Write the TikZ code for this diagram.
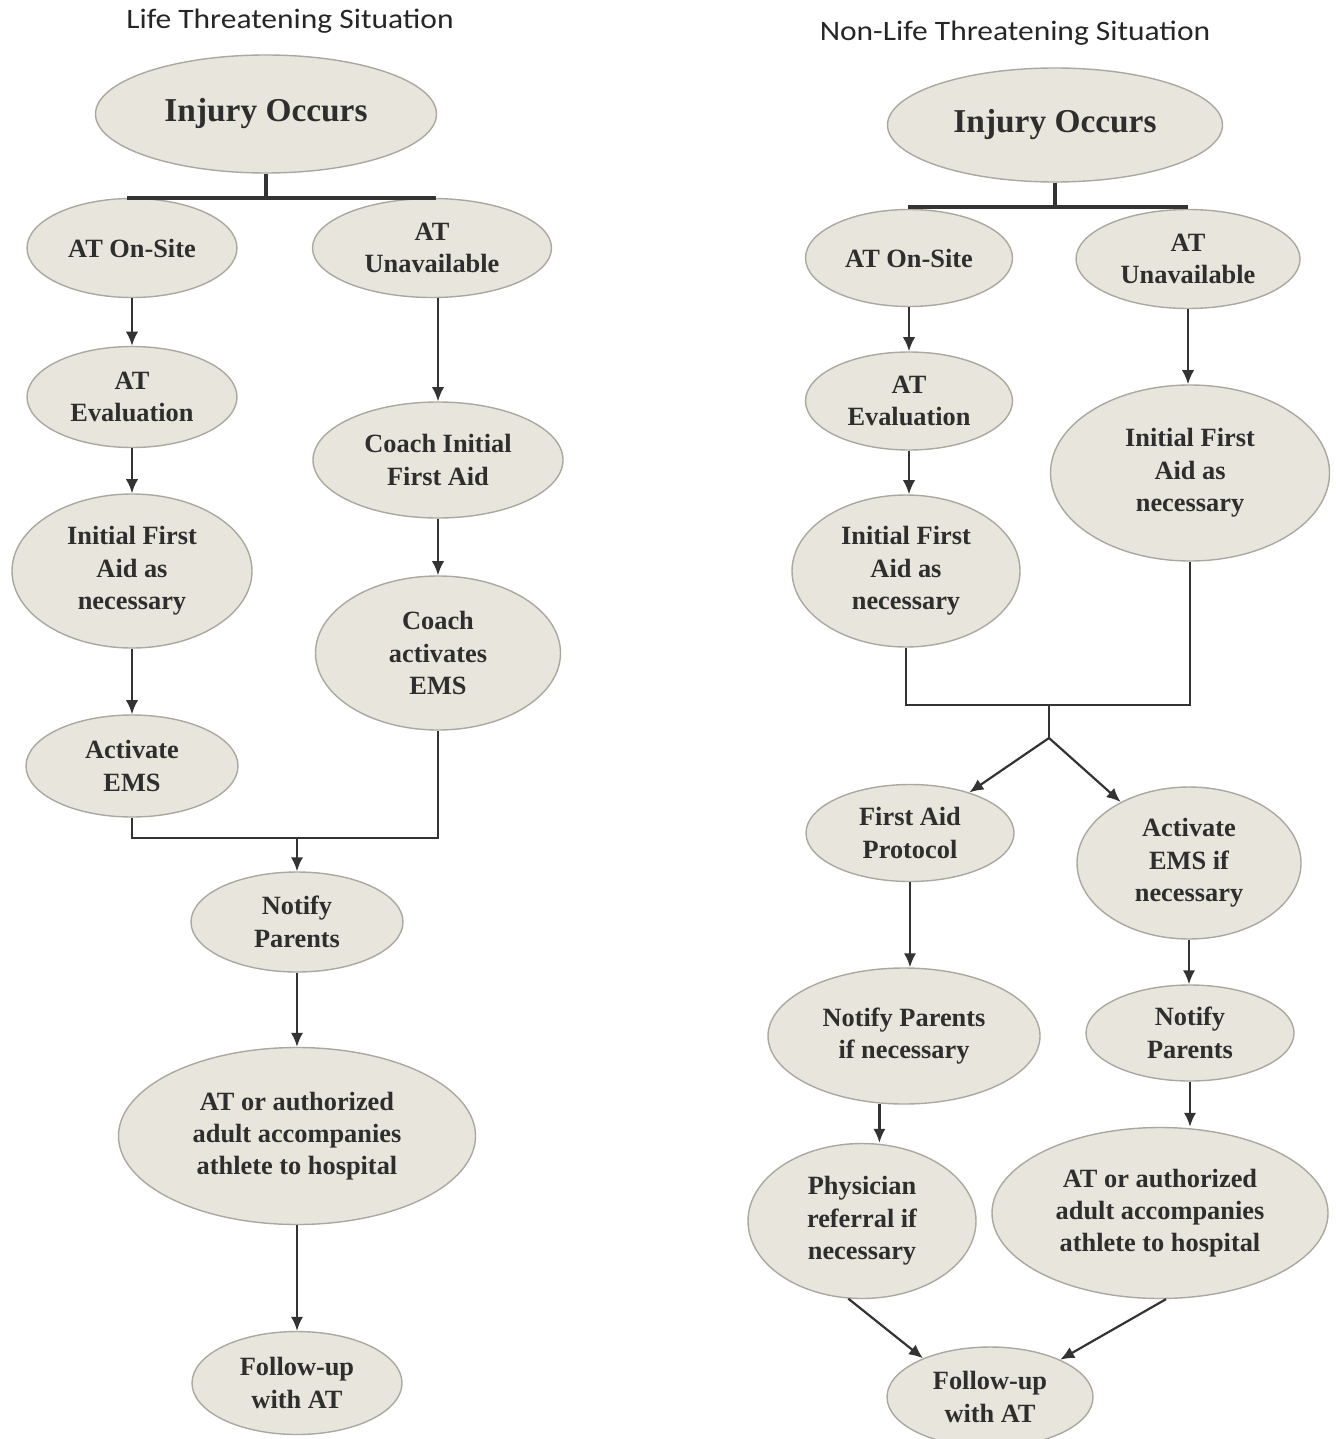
\documentclass[tikz,border=0pt]{standalone}
\usepackage{fontspec}
\setmainfont{Liberation Serif}
\newfontfamily\titlefont[FakeStretch=1.12]{Carlito}
\usepackage{xcolor}
\usetikzlibrary{arrows.meta, positioning, shapes.geometric}
\definecolor{ovalfill}{HTML}{E8E6DC}
\definecolor{ovaldraw}{HTML}{A9A9A1}
\definecolor{wiregray}{HTML}{333333}
\definecolor{inkgray}{HTML}{2E2E2E}
\tikzset{
  bubble/.style 2 args={ellipse, draw=ovaldraw, fill=ovalfill, line width=0.8pt,
                minimum width=#1*0.02cm, minimum height=#2*0.02cm,
                inner sep=0pt, align=center, text=inkgray,
                font=\fontsize{15}{18.4}\selectfont\bfseries},
  big/.style={font=\fontsize{19}{23}\selectfont\bfseries},
  arr/.style={-{Latex[length=8pt,width=7pt]}, line width=1.25pt, wiregray},
  wire/.style={line width=1.25pt, wiregray},
  bar/.style={line width=1.8pt, wiregray},
  ttl/.style={font=\titlefont\fontsize{16}{19}\selectfont, text=black!85},
}
\begin{document}
\begin{tikzpicture}[x=0.02cm, y=-0.02cm]
  \useasboundingbox (0,0) rectangle (1335,1439);
  %% Life threatening side
  \node[ttl] (ttlL) at (290,21) {Life Threatening Situation};
  \node[bubble={341}{118}, big] (injL) at (266,114) {Injury Occurs};
  \coordinate (barL1) at (127,198);
  \coordinate (barL2) at (436,198);
  \node[bubble={210}{99}]  (siteL)    at (132,248) {AT On-Site};
  \node[bubble={239}{99}]  (unavL)    at (432,248) {AT\\Unavailable};
  \node[bubble={210}{101}] (evalL)    at (132,397) {AT\\Evaluation};
  \node[bubble={240}{154}] (aidL)     at (132,571) {Initial First\\Aid as\\necessary};
  \node[bubble={212}{102}] (emsL)     at (132,766) {Activate\\EMS};
  \node[bubble={250}{116}] (coachAid) at (438,460) {Coach Initial\\First Aid};
  \node[bubble={245}{154}] (coachEms) at (438,653) {Coach\\activates\\EMS};
  \coordinate (joinL) at (297,838);
  \node[bubble={212}{100}] (notifyL)  at (297,922) {Notify\\Parents};
  \node[bubble={357}{177}] (hospL)    at (297,1136) {AT or authorized\\adult accompanies\\athlete to hospital};
  \node[bubble={210}{103}] (followL)  at (297,1383) {Follow-up\\with AT};
  \draw[bar] (injL.south) -- (injL.south |- barL1);
  \draw[bar] (barL1) -- (barL2);
  \foreach \a/\b in {siteL/evalL,evalL/aidL,aidL/emsL,coachAid/coachEms,notifyL/hospL,hospL/followL}
    \draw[arr] (\a.south) -- (\b.north);
  \draw[arr] (unavL.south -| coachAid.north) -- (coachAid.north);
  \draw[wire] (emsL.south) |- (coachEms.south |- joinL) -- (coachEms.south);
  \draw[arr] (joinL) -- (notifyL.north);
  %% Non-life threatening side
  \node[ttl] (ttlR) at (1015,33) {Non-Life Threatening Situation};
  \node[bubble={335}{114}, big] (injR) at (1055,125) {Injury Occurs};
  \coordinate (barR1) at (908,207);
  \coordinate (barR2) at (1188,207);
  \node[bubble={207}{97}]  (siteR)    at (909,258) {AT On-Site};
  \node[bubble={224}{99}]  (unavR)    at (1188,259) {AT\\Unavailable};
  \node[bubble={207}{98}]  (evalR)    at (909,401) {AT\\Evaluation};
  \node[bubble={228}{152}] (aidRa)    at (906,571) {Initial First\\Aid as\\necessary};
  \node[bubble={279}{176}] (aidRb)    at (1190,473) {Initial First\\Aid as\\necessary};
  \coordinate (mergeR) at (1049,705);
  \node[bubble={208}{97}]  (protR)    at (910,833) {First Aid\\Protocol};
  \node[bubble={224}{152}] (emsR)     at (1189,863) {Activate\\EMS if\\necessary};
  \node[bubble={272}{136}] (notifyRa) at (904,1036) {Notify Parents\\if necessary};
  \node[bubble={208}{96}]  (notifyRb) at (1190,1033) {Notify\\Parents};
  \node[bubble={228}{155}] (physR)    at (862,1221) {Physician\\referral if\\necessary};
  \node[bubble={336}{171}] (atR)      at (1160,1213) {AT or authorized\\adult accompanies\\athlete to hospital};
  \node[bubble={206}{100}] (followR)  at (990,1397) {Follow-up\\with AT};
  \draw[bar] (injR.south) -- (injR.south |- barR1);
  \draw[bar] (barR1) -- (barR2);
  \foreach \a/\b in {siteR/evalR,evalR/aidRa,unavR/aidRb,emsR/notifyRb,notifyRb/atR}
    \draw[arr] (\a.south) -- (\a.south |- \b.north);
  \draw[arr] (protR.south) -- (protR.south |- notifyRa.north);
  \draw[wire] (aidRa.south) |- (mergeR) -| (aidRb.south);
  \draw[wire] (mergeR) -- ++(0,33) coordinate (forkR);
  \draw[arr] (forkR) -- (protR);
  \draw[arr] (forkR) -- (emsR);
  \draw[arr] (notifyRa.-110) -- (notifyRa.-110 |- physR.north);
  \draw[arr] (physR.-100) -- (followR.150);
  \draw[arr] (atR.-86) -- (followR.28);
\end{tikzpicture}
\end{document}
